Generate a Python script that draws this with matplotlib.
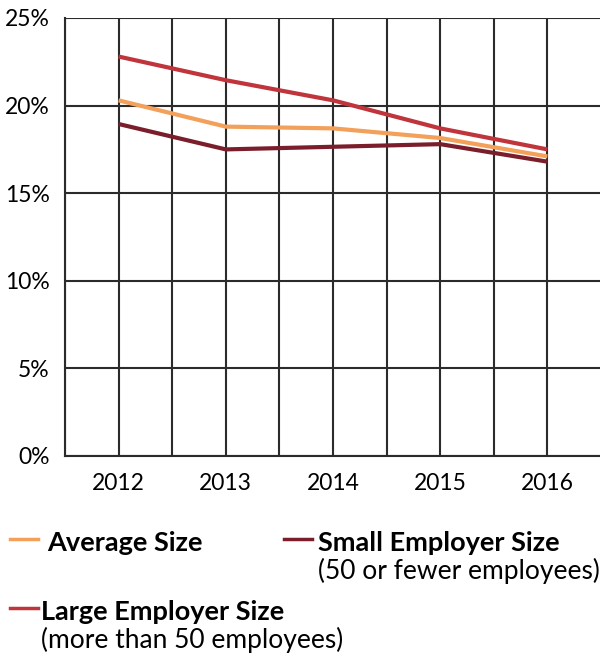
import matplotlib.pyplot as plt
from matplotlib.lines import Line2D

plt.rcParams['font.family'] = ['Lato', 'DejaVu Sans']

years = [2012, 2013, 2014, 2015, 2016]
average_size = [20.3, 18.8, 18.7, 18.15, 17.1]
small_employer = [18.95, 17.5, 17.65, 17.8, 16.8]
large_employer = [22.8, 21.45, 20.3, 18.7, 17.5]

y_ticks = [0, 5, 10, 15, 20, 25]
y_labels = ['0%', '5%', '10%', '15%', '20%', '25%']

c_avg = '#f2a05a'
c_small = '#7b1e2b'
c_large = '#c0343b'
grid_c = '#2b2b2b'

fig = plt.figure(figsize=(6, 6.58), dpi=100)
ax = fig.add_axes([65 / 600, 1 - 456 / 658, 536 / 600, 438 / 658])

ax.plot(years, large_employer, color=c_large, lw=3.0, solid_capstyle='butt', zorder=3)
ax.plot(years, average_size, color=c_avg, lw=3.0, solid_capstyle='butt', zorder=4)
ax.plot(years, small_employer, color=c_small, lw=3.0, solid_capstyle='butt', zorder=3)

ax.set_xlim(2011.5, 2016.5)
ax.set_ylim(0, 25)
ax.set_xticks(years)
ax.set_xticks([y + 0.5 for y in years[:-1]] + [2011.5], minor=True)
ax.set_yticks(y_ticks)
ax.set_yticklabels(y_labels)
ax.grid(True, which='both', axis='x', color=grid_c, lw=1.5)
ax.grid(True, which='major', axis='y', color=grid_c, lw=1.5)
ax.set_axisbelow(True)
ax.tick_params(which='both', length=0, labelsize=16.5, colors='black')
ax.tick_params(axis='x', pad=12)
ax.tick_params(axis='y', pad=11)
for side in ['top', 'right']:
    ax.spines[side].set_visible(False)
for side in ['left', 'bottom']:
    ax.spines[side].set_color(grid_c)
    ax.spines[side].set_linewidth(1.5)

# hand-placed legend below the chart
def legend_item(x0, y_line, color, title, sub=None, tx=None):
    fig.add_artist(Line2D([x0 / 600, (x0 + 28) / 600], [1 - y_line / 658] * 2,
                          color=color, lw=2.5))
    tx = tx if tx is not None else x0 + 37
    fig.text(tx / 600, 1 - (y_line + 4) / 658, title, fontsize=19.5, fontweight='bold',
             va='center', ha='left')
    if sub:
        fig.text(tx / 600, 1 - (y_line + 32) / 658, sub, fontsize=19,
                 va='center', ha='left')

legend_item(10, 539, c_avg, 'Average Size')
legend_item(284, 539, c_small, 'Small Employer Size', '(50 or fewer employees)', tx=318)
legend_item(10, 608, c_large, 'Large Employer Size', '(more than 50 employees)', tx=41)

fig.savefig('out.png', dpi=100)
